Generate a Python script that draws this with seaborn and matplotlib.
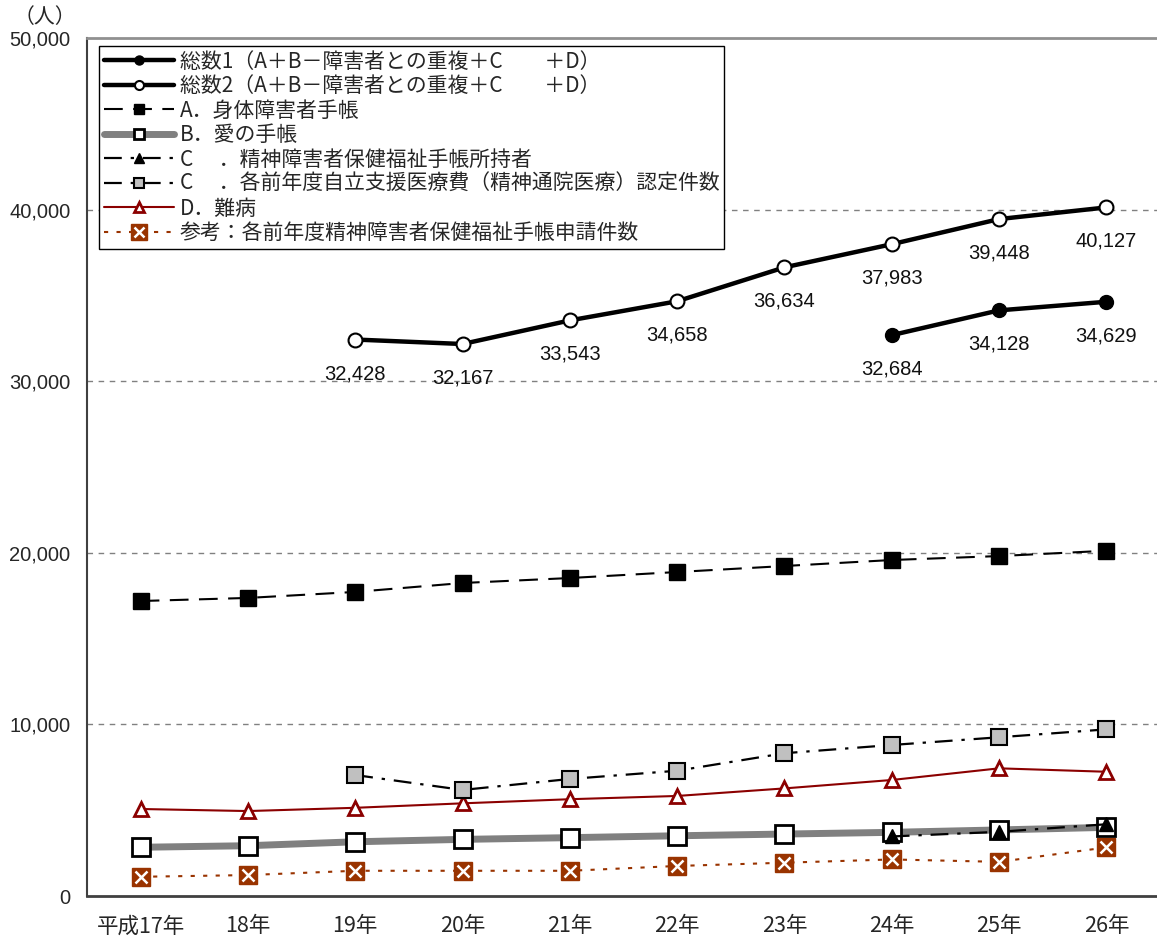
import numpy as np
import pandas as pd
import matplotlib
matplotlib.use("Agg")
import matplotlib.pyplot as plt
import seaborn as sns
from matplotlib.lines import Line2D
from matplotlib.legend_handler import HandlerTuple
from matplotlib.ticker import FuncFormatter, FixedLocator

nan = np.nan

# ---- data ----
years = ["平成17年", "18年", "19年", "20年", "21年", "22年", "23年", "24年", "25年", "26年"]
total1 = [nan, nan, nan, nan, nan, nan, nan, 32684, 34128, 34629]
total2 = [nan, nan, 32428, 32167, 33543, 34658, 36634, 37983, 39448, 40127]
physical = [17190, 17370, 17720, 18240, 18530, 18880, 19230, 19580, 19810, 20120]
ai_techo = [2840, 2930, 3160, 3300, 3400, 3510, 3610, 3710, 3850, 4000]
mental_holders = [nan, nan, nan, nan, nan, nan, nan, 3470, 3740, 4180]
outpatient = [nan, nan, 7050, 6180, 6820, 7300, 8320, 8800, 9250, 9710]
intractable = [5070, 4950, 5140, 5400, 5640, 5830, 6270, 6760, 7440, 7240]
applications = [1120, 1220, 1470, 1470, 1470, 1750, 1940, 2130, 1990, 2830]

labels = [
    "総数1（A＋B－障害者との重複＋C　　＋D）",
    "総数2（A＋B－障害者との重複＋C　　＋D）",
    "A．身体障害者手帳",
    "B．愛の手帳",
    "C　 ．精神障害者保健福祉手帳所持者",
    "C　 ．各前年度自立支援医療費（精神通院医療）認定件数",
    "D．難病",
    "参考：各前年度精神障害者保健福祉手帳申請件数",
]

sns.set_style("white")
plt.rcParams["font.family"] = ["Noto Sans CJK JP", "DejaVu Sans"]
NUM_FONT = ["Liberation Sans", "DejaVu Sans"]

fig = plt.figure(figsize=(11.57, 9.39), dpi=100)
ax = fig.add_axes([87 / 1157, 43 / 939, 1073 / 1157, 858 / 939])

x = np.arange(len(years))

BROWN = "#993300"
DARKRED = "#8b0000"
DASHDOT = (0, (8, 4, 1.5, 4))

# line / marker styles per series
styles = {
    "total1": dict(color="black", lw=3.2, marker="o", mfc="black", mec="black", mew=1.0),
    "total2": dict(color="black", lw=3.2, marker="o", mfc="white", mec="black", mew=1.5),
    "physical": dict(color="black", lw=1.5, ls=(0, (9, 5)), marker="s", mfc="black", mec="black", mew=1.0),
    "ai": dict(color="#808080", lw=5, marker="s", mfc="white", mec="black", mew=2),
    "holders": dict(color="black", lw=1.6, ls=DASHDOT, marker="^", mfc="black", mec="black", mew=1.0),
    "outpatient": dict(color="black", lw=1.6, ls=DASHDOT, marker="s", mfc="#c0c0c0", mec="black", mew=1.5),
    "intractable": dict(color=DARKRED, lw=1.5, marker="^", mfc="white", mec=DARKRED, mew=2),
    "applications": dict(color=BROWN, lw=1.5, ls=(0, (2, 4)), marker="s", mfc=BROWN, mec=BROWN, mew=1.0),
}
plot_sizes = dict(total1=10, total2=10, physical=11, ai=13, holders=10,
                  outpatient=11, intractable=10, applications=12.5)
legend_sizes = dict(total1=6.5, total2=6.5, physical=7.5, ai=7.5, holders=7.5,
                    outpatient=7.5, intractable=7.5, applications=11.5)


def draw(values, key, zorder=3):
    st = styles[key]
    df = pd.DataFrame({"x": x, "y": values}).dropna()
    sns.lineplot(data=df, x="x", y="y", ax=ax, sort=False, errorbar=None,
                 legend=False, color=st["color"], lw=st["lw"],
                 linestyle=st.get("ls", "-"), marker=st["marker"],
                 markersize=plot_sizes[key], markerfacecolor=st["mfc"],
                 markeredgecolor=st["mec"], markeredgewidth=st["mew"],
                 zorder=zorder)
    return ax.lines[-1]


def proxy(key):
    st = styles[key]
    return Line2D([], [], color=st["color"], lw=st["lw"],
                  linestyle=st.get("ls", "-"), marker=st["marker"],
                  markersize=legend_sizes[key], markerfacecolor=st["mfc"],
                  markeredgecolor=st["mec"], markeredgewidth=st["mew"])


draw(applications, "applications")
ax.plot(x, applications, linestyle="none", marker="x", markersize=8,
        markeredgecolor="white", markeredgewidth=1.8, zorder=3.1)
draw(ai_techo, "ai")
draw(intractable, "intractable")
draw(outpatient, "outpatient")
draw(mental_holders, "holders", zorder=4)
draw(physical, "physical")
draw(total2, "total2", zorder=4)
draw(total1, "total1", zorder=4)

# value labels under the total lines
for series in (total1, total2):
    for xi, v in zip(x, series):
        if not np.isnan(v):
            ax.annotate(f"{int(v):,}", (xi, v), xytext=(0, -34),
                        textcoords="offset pixels", ha="center", va="center",
                        fontsize=14.5, family=NUM_FONT, color="#111111",
                        zorder=5)

# axes styling
ax.set_xlim(-0.5, len(years) - 0.5)
ax.set_ylim(0, 50000)
ax.set_xlabel("")
ax.set_ylabel("")
ax.set_xticks(x)
ax.set_xticklabels(years, fontsize=15.5)
ax.xaxis.set_minor_locator(FixedLocator(np.arange(0.5, len(years) - 1, 1)))
ax.tick_params(axis="x", which="major", length=0, pad=14)
ax.tick_params(axis="x", which="minor", direction="in", length=7,
               width=1, color="#404040")
ax.set_yticks(np.arange(0, 50001, 10000))
ax.yaxis.set_major_formatter(FuncFormatter(lambda v, p: f"{int(v):,}"))
for lab in ax.get_yticklabels():
    lab.set_family(NUM_FONT)
    lab.set_fontsize(14.5)
ax.tick_params(axis="y", direction="in", length=6, width=1,
               color="#404040", pad=12)

for yv in range(10000, 50000, 10000):
    ax.axhline(yv, color="#808080", lw=1, linestyle=(0, (4, 4)), zorder=1)

ax.spines["right"].set_visible(False)
ax.spines["top"].set_color("#909090")
ax.spines["top"].set_linewidth(2)
ax.spines["left"].set_color("#404040")
ax.spines["left"].set_linewidth(1.5)
ax.spines["bottom"].set_color("#404040")
ax.spines["bottom"].set_linewidth(2)

fig.text(45 / 1157, 1 - 17 / 939, "（人）", ha="center", va="center",
         fontsize=15)

app_x = Line2D([], [], linestyle="none", marker="x", markersize=7.5,
               markeredgecolor="white", markeredgewidth=1.8)
handles = [proxy("total1"), proxy("total2"), proxy("physical"), proxy("ai"),
           proxy("holders"), proxy("outpatient"), proxy("intractable"),
           (proxy("applications"), app_x)]
leg = ax.legend(handles, labels, loc="upper left",
                bbox_to_anchor=(12 / 1073, (896 - 46) / 858),
                borderaxespad=0, fontsize=15, handlelength=3.4,
                handletextpad=0.25, labelspacing=0.12, borderpad=0.22,
                frameon=True, fancybox=False, framealpha=1,
                edgecolor="black",
                handler_map={tuple: HandlerTuple(ndivide=1)})
leg.get_frame().set_linewidth(1)
leg.set_zorder(10)

fig.savefig("out.png", dpi=100)
